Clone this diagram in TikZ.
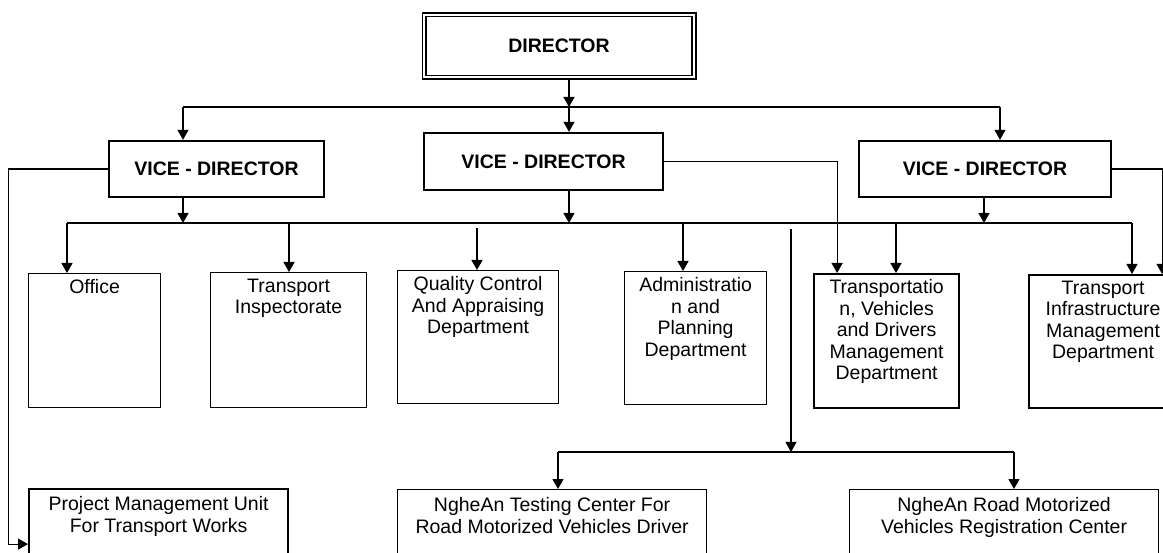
\documentclass[tikz,border=0pt]{standalone}
\usepackage{fontspec}
\setmainfont{Liberation Sans}
\usetikzlibrary{arrows.meta,positioning,calc}
\tikzset{
	orgfont/.style={font=\fontsize{19.5}{21.5}\selectfont},
	headbox/.style={draw, line width=2.4pt, inner sep=0pt, font=\fontsize{19.5}{21.5}\selectfont\bfseries},
	deptbox/.style={draw, line width=1.2pt, inner sep=0pt, anchor=north west},
	thickbox/.style={deptbox, line width=2.2pt},
	boxtext/.style={anchor=north, align=center, inner sep=6pt, orgfont},
	unittext/.style={boxtext, inner sep=8pt}
}
\begin{document}
\begin{tikzpicture}[x=1pt, y=-1pt, ->, >={Triangle[width=11pt,length=10pt]}, line width=1.2pt]
	\useasboundingbox (0,0) rectangle (1163,553);
	\clip (0,0) rectangle (1163,553);
	
	\node[headbox, double=white, double distance=2.2pt, line width=1.6pt, minimum width=269.6pt, minimum height=62.6pt] (dir) at (559,46) {DIRECTOR};
	
	\node[headbox, minimum width=215pt, minimum height=56pt] (vdL) at (216.5,169) {VICE - DIRECTOR};
	\node[headbox, minimum width=239pt, minimum height=57pt] (vdC) at (543.5,161.5) {VICE - DIRECTOR};
	\node[headbox, minimum width=252pt, minimum height=56pt] (vdR) at (985,169) {VICE - DIRECTOR};
	
	\node[deptbox, minimum width=132pt, minimum height=134pt, label={[boxtext]north:Office}] (office) at (28,273) {};
	\node[deptbox, minimum width=156pt, minimum height=135pt, label={[boxtext]north:{Transport\\Inspectorate}}] (insp) at (210,272) {};
	\node[deptbox, minimum width=161pt, minimum height=133pt, label={[boxtext]north:{Quality Control\\And Appraising\\Department}}] (qual) at (397,270) {};
	\node[deptbox, minimum width=142pt, minimum height=133pt, label={[boxtext]north:{Administratio\\n and\\Planning\\Department}}] (admin) at (624,271) {};
	\node[thickbox, minimum width=145pt, minimum height=134pt, label={[boxtext]north:{Transportatio\\n, Vehicles\\and Drivers\\Management\\Department}}] (transp) at (813,273) {};
	\node[thickbox, minimum width=148pt, minimum height=133pt, label={[boxtext]north:{Transport\\Infrastructure\\Management\\Department}}] (infra) at (1028,274) {};
	
	\node[thickbox, minimum width=259pt, minimum height=110pt, label={[unittext]north:{Project Management Unit\\For Transport Works}}] (pmu) at (28,488) {};
	\node[deptbox, minimum width=309pt, minimum height=110pt, label={[unittext]north:{NgheAn Testing Center For\\Road Motorized Vehicles Driver}}] (test) at (397,489) {};
	\node[deptbox, minimum width=309pt, minimum height=110pt, label={[unittext]north:{NgheAn Road Motorized\\Vehicles Registration Center}}] (reg) at (849,489) {};
	
	% director to vice-directors
	\coordinate (busL) at (183,107);
	\coordinate (busM) at (569,107);
	\coordinate (busR) at (1000,107);
	\draw[-] (busL) -- (busR);
	\draw (dir.south -| busM) -- (busM);
	\draw (busL) -- (busL |- vdL.north);
	\draw (busM) -- (busM |- vdC.north);
	\draw (busR) -- (busR |- vdR.north);
	
	% vice-directors to departments
	\coordinate (deptL) at (67,223);
	\coordinate (deptR) at (1132,223);
	\coordinate (subR) at (984,223);
	\draw[-] (deptL) -- (deptR);
	\draw (vdL.south -| busL) -- (busL |- deptL);
	\draw (vdC.south -| busM) -- (busM |- deptL);
	\draw (vdR.south -| subR) -- (subR);
	\foreach \px/\dept in {67/office, 289/insp, 683/admin, 896/transp, 1132/infra}
		\draw (\px,223) -- (\px,223 |- \dept.north);
	\coordinate (qtop) at (477,228);
	\draw (qtop) -- (qtop |- qual.north);
	
	\draw (vdC.east) -| ([xshift=-49.5pt]transp.north);
	\draw (vdR.east) -| ([xshift=59pt]infra.north);
	\draw (vdL.west) -- ++(-99,0) |- (pmu.west);
	
	% centers
	\coordinate (ctrTop) at (791,229);
	\coordinate (ctrBus) at (791,452);
	\coordinate (ctrL) at (558,452);
	\coordinate (ctrR) at (1014,452);
	\draw (ctrTop) -- (ctrBus);
	\draw[-] (ctrL) -- (ctrR);
	\draw (ctrL) -- (ctrL |- test.north);
	\draw (ctrR) -- (ctrR |- reg.north);
\end{tikzpicture}
\end{document}
